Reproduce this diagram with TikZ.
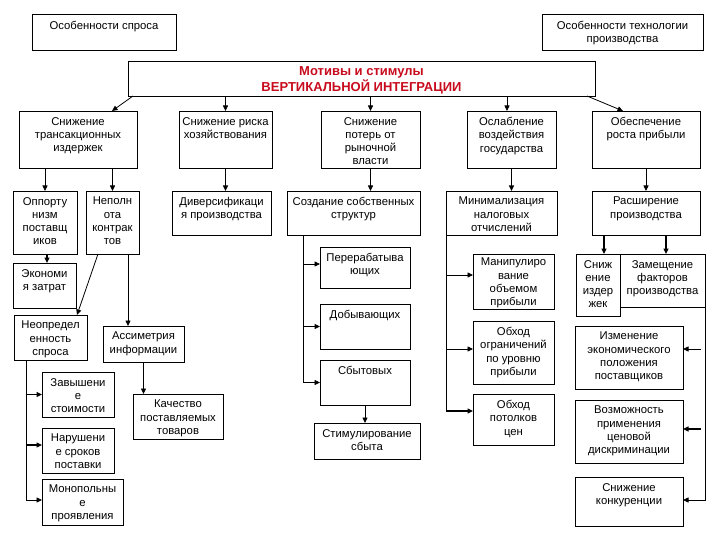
\documentclass[tikz,border=0pt]{standalone}
\usepackage{fontspec}
\setmainfont{Liberation Sans}
\usetikzlibrary{arrows.meta,calc}
\definecolor{redtxt}{RGB}{200,12,30}
\tikzset{
  boxsty/.style={draw, line width=0.8pt, inner sep=0pt, outer sep=0pt},
  txtsty/.style={align=center, inner sep=0pt, font=\fontsize{11.3}{13.3}\selectfont},
  ln/.style={line width=0.8pt},
  arr/.style={line width=0.8pt, -{Triangle[length=5.5pt,width=5pt]}},
  arrb/.style={line width=1.4pt, -{Triangle[length=5.5pt,width=5pt]}},
  titlesty/.style={align=center, inner sep=0pt, text=redtxt, font=\bfseries\fontsize{13}{16}\selectfont}
}
\newcommand\bbox[7][6]{%
  \node[boxsty, minimum width={(#5-#3)*1pt}, minimum height={(#6-#4)*1pt}, anchor=north west] (#2) at (#3,#4) {};%
  \node[txtsty, anchor=north] (#2t) at ([yshift=-#1pt]#2.north) {#7};%
}
\begin{document}
\begin{tikzpicture}[x=1pt,y=-1pt]
\useasboundingbox (0,0) rectangle (720,540);
\fill[white] (0,0) rectangle (720,540);

% top
\bbox[7]{A}{32}{14}{176}{50}{Особенности спроса}
\bbox[7]{B}{542}{14}{703}{50}{Особенности технологии\\производства}
\node[boxsty, minimum width=467pt, minimum height=35pt, anchor=north west] (Main) at (128,61) {};
\node[titlesty] (Maint) at (361.5,80) {Мотивы и стимулы\\ВЕРТИКАЛЬНОЙ ИНТЕГРАЦИИ};

% row 1
\bbox{T1}{19}{111}{137}{168}{Снижение\\трансакционных\\издержек}
\bbox{T2}{179}{111}{272}{168}{Снижение риска\\хозяйствования}
\bbox{T3}{321}{111}{420}{168}{Снижение\\потерь от\\рыночной\\власти}
\bbox{T4}{467}{111}{556}{168}{Ослабление\\воздействия\\государства}
\bbox{T5}{592}{111}{700}{168}{Обеспечение\\роста прибыли}

% row 2
\bbox{O1}{13}{191}{77}{254}{Оппорту\\низм\\поставщ\\иков}
\bbox{O2}{86}{191}{139}{254}{Неполн\\ота\\контрак\\тов}
\bbox{D}{172}{191}{271}{235}{Диверсификаци\\я производства}
\bbox{S}{287}{191}{420}{235}{Создание собственных\\структур}
\bbox{M}{446}{191}{557}{235}{Минимализация\\налоговых\\отчислений}
\bbox{R}{592}{191}{700}{235}{Расширение\\производства}

% left column
\bbox{E}{13}{263}{76}{308}{Экономи\\я затрат}
\bbox{N}{14}{315}{87}{360}{Неопредел\\енность\\спроса}
\bbox{A2}{103}{326}{184}{362}{Ассиметрия\\информации}
\bbox{Q}{133}{394}{223}{439}{Качество\\поставляемых\\товаров}
\bbox{Z}{42}{372}{114}{417}{Завышени\\е\\стоимости}
\bbox{NS}{42}{428}{114}{473}{Нарушени\\е сроков\\поставки}
\bbox{MP}{42}{479}{123}{525}{Монопольны\\е\\проявления}

% middle column
\bbox{P}{320}{247}{410}{288}{Перерабатыва\\ющих}
\bbox{Dob}{320}{304}{410}{349}{Добывающих}
\bbox{Sb}{320}{360}{410}{405}{Сбытовых}
\bbox{St}{314}{423}{420}{459}{Стимулирование\\сбыта}

% right-middle column
\bbox[4]{Man}{473}{254}{554}{309}{Манипулиро\\вание\\объемом\\прибыли}
\bbox{Ob1}{473}{321}{554}{384}{Обход\\ограничений\\по уровню\\прибыли}
\bbox{Ob2}{473}{394}{554}{445}{Обход\\потолков\\цен}

% right column
\bbox{Sn}{576}{254}{620}{316}{Сниж\\ение\\издер\\жек}
\bbox{Zam}{620}{254}{705}{307}{Замещение\\факторов\\производства}
\bbox{Izm}{575}{326}{683}{389}{Изменение\\экономического\\положения\\поставщиков}
\bbox{Voz}{575}{400}{683}{463}{Возможность\\применения\\ценовой\\дискриминации}
\bbox{SK}{575}{477}{683}{526}{Снижение\\конкуренции}

% connectors from main box
\draw[arr] ([xshift=5pt]Main.south west) -- ([xshift=-25pt]T1.north east);
\draw[arr] (T2.north |- Main.south) -- (T2.north);
\draw[arr] (T3.north |- Main.south) -- (T3.north);
\draw[arr] ($(T4.north |- Main.south)+(-4.5,0)$) -- ($(T4.north)+(-4.5,0)$);
\draw[arr] ([xshift=-8pt]Main.south east) -- ([xshift=31pt]T5.north west);

% row 1 -> row 2
\draw[arr] (O1.north |- T1.south) -- (O1.north);
\draw[arr] (O2.north |- T1.south) -- (O2.north);
\draw[arrb] (T2.south) -- (T2.south |- D.north);
\draw[arr] (T3.south) -- (T3.south |- S.north);
\draw[arrb] (T4.south) -- (T4.south |- M.north);
\draw[arr] (T5.south) -- (T5.south |- R.north);

% left part
\draw[arrb] ($(O1.south)+(2,0)$) -- ($(O1.south |- E.north)+(2,0)$);
\draw[arr] ([xshift=12pt]O2.south west) -- ([xshift=-10pt]N.north east);
\draw[arr] ([xshift=-11pt]O2.south east) -- ($(A2.north west)+(25,0)$);
\draw[arr] (A2.south) -- (A2.south |- Q.north);
\coordinate (Ntr) at ([xshift=12pt]N.south west);
\coordinate (NZ) at ($(Z.west)+(0,0)$);
\coordinate (NN) at ($(NS.west)+(0,-5.5)$);
\coordinate (NM) at ($(MP.west)+(0,-2)$);
\draw[ln] (Ntr) -- (Ntr |- NM);
\draw[arrb] (Ntr |- NZ) -- (NZ);
\draw[arrb] (Ntr |- NN) -- (NN);
\draw[arr] (Ntr |- NM) -- (NM);

% middle part
\coordinate (Str) at ([xshift=16pt]S.south west);
\coordinate (SP) at ($(P.west)+(0,-3.5)$);
\draw[ln] (Str) -- (Str |- Sb.west);
\draw[arr] (Str |- SP) -- (SP);
\draw[arrb] (Str |- Dob.west) -- (Dob.west);
\draw[arr] (Str |- Sb.west) -- (Sb.west);
\draw[arr] (Sb.south) -- (Sb.south |- St.north);

% right-middle part
\coordinate (MMan) at ($(Man.west)+(0,-6.5)$);
\coordinate (MOb1) at ($(Ob1.west)+(0,-3.5)$);
\coordinate (MOb2) at ($(Ob2.west)+(0,-8.5)$);
\draw[ln] (M.south west) -- (M.south west |- MOb2);
\draw[arr] (M.south west |- MMan) -- (MMan);
\draw[arr] (M.south west |- MOb1) -- (MOb1);
\draw[arrb] (M.south west |- MOb2) -- (MOb2);

% right part
\draw[arrb] ($(Sn.north |- R.south)+(6,0)$) -- ($(Sn.north)+(6,0)$);
\draw[arrb] ($(Zam.north |- R.south)+(3.5,0)$) -- ($(Zam.north)+(3.5,0)$);
\coordinate (ZIzm) at ($(Izm.east)+(0,-8.5)$);
\coordinate (ZVoz) at ($(Voz.east)+(0,-2.5)$);
\coordinate (ZSK) at ($(SK.east)+(0,-1.5)$);
\draw[ln] (Zam.south east) -- (Zam.south east |- ZSK) -- ([xshift=-4pt]Zam.south east |- ZSK);
\draw[arr] ([xshift=-4pt]Zam.south east |- ZIzm) -- (ZIzm);
\draw[arrb] ([xshift=-4pt]Zam.south east |- ZVoz) -- (ZVoz);
\draw[arr] ([xshift=-4pt]Zam.south east |- ZSK) -- (ZSK);
\end{tikzpicture}
\end{document}
